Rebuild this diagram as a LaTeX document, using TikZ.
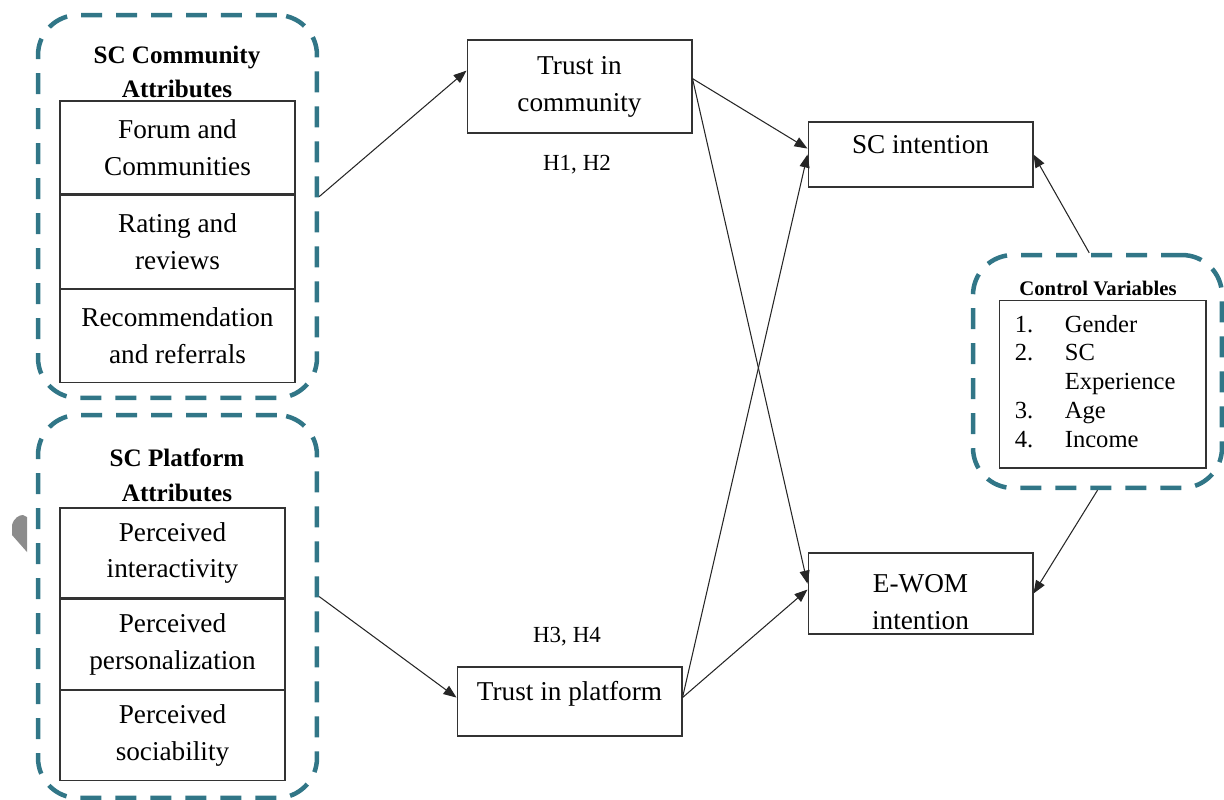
\documentclass[tikz,border=0pt]{standalone}
\usepackage{fontspec}
\setmainfont{Liberation Serif}
\usetikzlibrary{positioning,arrows.meta}
\definecolor{dashteal}{RGB}{49,118,135}

\begin{document}
\begin{tikzpicture}[x=0.02cm,y=-0.02cm,>={Triangle[length=0.26cm,width=0.2cm]},
    group/.style={draw=dashteal,line width=0.09cm,rounded corners=0.8cm,dash pattern=on 0.42cm off 0.28cm,minimum width=5.58cm,minimum height=7.66cm},
    cell/.style={draw=black!80,line width=0.6pt,align=center,inner sep=0pt,font=\fontsize{15.5}{21}\selectfont},
    oneline/.style={text height=11pt,text depth=12.7pt},
    title/.style={font=\bfseries\fontsize{14.3}{19.8}\selectfont,align=center,inner sep=0pt},
    hyp/.style={font=\fontsize{13.1}{15}\selectfont,inner sep=0pt},
    link/.style={->,line width=0.6pt,black!85}]
    \useasboundingbox (0,0) rectangle (1224,799);

    % dashed groups
    \node[group] (comm) at (177.5,206.5) {};
    \node[group] (plat) at (177.5,606.5) {};
    \node[group,minimum width=4.98cm,minimum height=4.66cm] (ctl) at (1097.5,371.5) {};

    \fill[gray!90] (12,525) .. controls (14,518) and (19,515) .. (23,515) -- (27,517) -- (27,552) -- (12,535) -- cycle;

    % community attributes
    \node[title] (commtitle) at (177,72) {SC Community\\Attributes};
    \node[cell,minimum width=4.7cm,minimum height=1.86cm] (forum) at (177.5,147.5) {Forum and\\Communities};
    \node[cell,minimum width=4.7cm,minimum height=1.86cm,below=0pt of forum] (rating) {Rating and\\reviews};
    \node[cell,minimum width=4.7cm,minimum height=1.86cm,below=0pt of rating] (recom) {Recommendation\\and referrals};

    % platform attributes
    \node[title] (plattitle) at (177,475) {SC Platform\\Attributes};
    \node[cell,minimum width=4.5cm,minimum height=1.8cm] (inter) at (172.5,553) {Perceived\\interactivity};
    \node[cell,minimum width=4.5cm,minimum height=1.8cm,below=0pt of inter] (perso) {Perceived\\personalization};
    \node[cell,minimum width=4.5cm,minimum height=1.8cm,below=0pt of perso] (socia) {Perceived\\sociability};

    % trust and outcomes
    \node[cell,minimum width=4.5cm,minimum height=1.86cm] (tcomm) at (579.5,86.5) {Trust in\\community};
    \node[cell,oneline,minimum width=4.5cm,minimum height=1.38cm] (tplat) at (569.5,701.5) {Trust in platform};
    \node[cell,oneline,minimum width=4.5cm,minimum height=1.3cm] (scint) at (920.5,154.5) {SC intention};
    \node[cell,minimum width=4.5cm,minimum height=1.62cm] (ewom) at (920.5,593.5) {\rule{0pt}{20pt}E-WOM\\intention};

    \node[hyp] (h12) at (577,165) {H1, H2};
    \node[hyp] (h34) at (567,637) {H3, H4};

    % control variables
    \node[title,font=\bfseries\fontsize{11.8}{13}\selectfont] (ctltitle) at (1098,288) {Control Variables};
    \node[draw=black!80,line width=0.6pt,minimum width=4.14cm,minimum height=3.36cm] (ctlbox) at (1102.5,384) {};
    \node[anchor=north west,inner sep=0pt,font=\fontsize{14}{16.4}\selectfont] (ctllist) at ([shift={(16,12)}]ctlbox.north west)
        {\begin{tabular}{@{}p{1cm}@{}l@{}}1. & Gender\\ 2. & SC\\ & Experience\\ 3. & Age\\ 4. & Income\end{tabular}};

    \draw[link] (comm.4) -- (tcomm.172);
    \draw[link] (plat.4) -- (tplat.178);
    \draw[link] (tcomm.4) -- (scint.177);
    \draw[link] (tcomm.4) -- (ewom.175);
    \draw[link] (tplat.2) -- (scint.west);
    \draw[link] (tplat.2) -- (ewom.178);
    \draw[link] (ctl.94) -- (scint.east);
    \draw[link] (ctl.south) -- (ewom.east);
\end{tikzpicture}
\end{document}
